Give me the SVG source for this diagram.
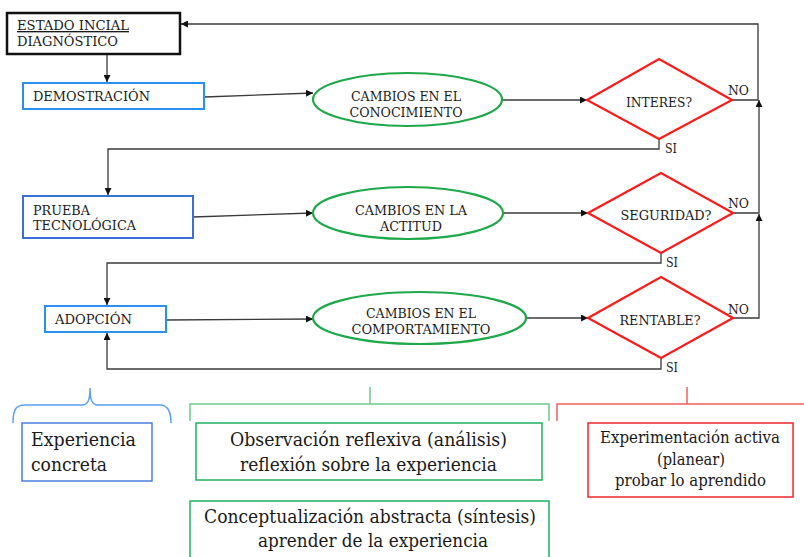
<svg xmlns="http://www.w3.org/2000/svg" width="804" height="557" viewBox="0 0 804 557" font-family="DejaVu Serif, serif">
<defs>
<marker id="ah" viewBox="0 0 10 10" refX="10" refY="5" markerWidth="7" markerHeight="7" markerUnits="userSpaceOnUse" orient="auto">
<path d="M0,0 L10,5 L0,10 z" fill="#111"/>
</marker>
<style>
text{fill:#1a1a1a}
.t{font-size:13.5px}
.s{font-size:12.5px}
.b{font-size:18px}
.r{font-size:16px}
.ca{fill:none;stroke:#3a3a3a;stroke-width:1.3;marker-end:url(#ah)}
.ell{fill:#fff;stroke:#1fa84a;stroke-width:2.2}
.dia{fill:#fff;stroke:#ff1a1a;stroke-width:2.2}
</style>
</defs>
<rect width="804" height="557" fill="#fff"/>

<g id="connectors">
<line class="ca" x1="107" y1="54" x2="107" y2="82"/>
<line class="ca" x1="204" y1="97" x2="313" y2="93"/>
<line class="ca" x1="502" y1="100" x2="587" y2="100"/>
<polyline class="ca" points="732,100 758,100 758,24 181,24"/>
<polyline class="ca" points="659,139 659,149 108,149 108,195"/>
<line class="ca" x1="193" y1="217" x2="313" y2="213"/>
<line class="ca" x1="503" y1="213" x2="588" y2="213"/>
<polyline class="ca" points="733,213 759,213 759,100"/>
<polyline class="ca" points="661,253 661,263 107,263 107,305"/>
<line class="ca" x1="166" y1="320" x2="313" y2="319"/>
<line class="ca" x1="526" y1="318" x2="588" y2="318"/>
<polyline class="ca" points="733,318 759,318 759,214"/>
<polyline class="ca" points="661,358 661,369 107,369 107,333"/>
</g>

<g id="estado">
<rect x="7" y="13" width="173" height="41" fill="#fff" stroke="#111" stroke-width="2.5"/>
<text class="t" x="17" y="30" text-decoration="underline" textLength="112" lengthAdjust="spacingAndGlyphs">ESTADO INCIAL</text>
<text class="t" x="17" y="46" textLength="101" lengthAdjust="spacingAndGlyphs">DIAGNÓSTICO</text>
</g>

<g id="demostracion">
<rect x="23" y="83" width="181" height="26" fill="#fff" stroke="#2b8ff0" stroke-width="2"/>
<text class="t" x="33" y="101" textLength="117" lengthAdjust="spacingAndGlyphs">DEMOSTRACIÓN</text>
</g>

<g id="prueba">
<rect x="23" y="196" width="170" height="42" fill="#fff" stroke="#3a6fd8" stroke-width="2"/>
<text class="t" x="33" y="215" textLength="57" lengthAdjust="spacingAndGlyphs">PRUEBA</text>
<text class="t" x="33" y="230" textLength="103" lengthAdjust="spacingAndGlyphs">TECNOLÓGICA</text>
</g>

<g id="adopcion">
<rect x="45" y="306" width="121" height="26" fill="#fff" stroke="#2b8ff0" stroke-width="2"/>
<text class="t" x="55" y="324" textLength="77" lengthAdjust="spacingAndGlyphs">ADOPCIÓN</text>
</g>

<g id="cambios-conocimiento">
<ellipse class="ell" cx="407.5" cy="99.5" rx="94.5" ry="26.5"/>
<text class="t" x="406" y="101" text-anchor="middle" textLength="110" lengthAdjust="spacingAndGlyphs">CAMBIOS EN EL</text>
<text class="t" x="406" y="117" text-anchor="middle" textLength="113" lengthAdjust="spacingAndGlyphs">CONOCIMIENTO</text>
</g>

<g id="cambios-actitud">
<ellipse class="ell" cx="408" cy="213" rx="95" ry="26"/>
<text class="t" x="411" y="215" text-anchor="middle" textLength="112" lengthAdjust="spacingAndGlyphs">CAMBIOS EN LA</text>
<text class="t" x="411" y="231" text-anchor="middle" textLength="62" lengthAdjust="spacingAndGlyphs">ACTITUD</text>
</g>

<g id="cambios-comportamiento">
<ellipse class="ell" cx="419.5" cy="318" rx="106.5" ry="26"/>
<text class="t" x="421" y="318" text-anchor="middle" textLength="110" lengthAdjust="spacingAndGlyphs">CAMBIOS EN EL</text>
<text class="t" x="421" y="334" text-anchor="middle" textLength="139" lengthAdjust="spacingAndGlyphs">COMPORTAMIENTO</text>
</g>

<g id="interes">
<polygon class="dia" points="587,100 659,59 732,100 659,139"/>
<text class="t" x="659" y="107" text-anchor="middle" textLength="66" lengthAdjust="spacingAndGlyphs">INTERES?</text>
<text class="s" x="728" y="95" textLength="21" lengthAdjust="spacingAndGlyphs">NO</text>
<text class="s" x="665" y="153" textLength="12" lengthAdjust="spacingAndGlyphs">SI</text>
</g>

<g id="seguridad">
<polygon class="dia" points="588,213 661,173 733,213 661,253"/>
<text class="t" x="666" y="220" text-anchor="middle" textLength="91" lengthAdjust="spacingAndGlyphs">SEGURIDAD?</text>
<text class="s" x="728" y="208" textLength="21" lengthAdjust="spacingAndGlyphs">NO</text>
<text class="s" x="666" y="267" textLength="12" lengthAdjust="spacingAndGlyphs">SI</text>
</g>

<g id="rentable">
<polygon class="dia" points="588,318 661,277 733,318 661,358"/>
<text class="t" x="660" y="325" text-anchor="middle" textLength="81" lengthAdjust="spacingAndGlyphs">RENTABLE?</text>
<text class="s" x="728" y="314" textLength="21" lengthAdjust="spacingAndGlyphs">NO</text>
<text class="s" x="666" y="372" textLength="12" lengthAdjust="spacingAndGlyphs">SI</text>
</g>

<g id="brackets">
<path d="M13,423 C13,411 15,405 25,405 L82,405 C88,405 90,400 90,388 C90,400 92,405 98,405 L160,405 C168,405 171,411 171,423" fill="none" stroke="#5aa0f0" stroke-width="1.5"/>
<polyline points="190,421 190,404 549,404 549,421" fill="none" stroke="#6cc98a" stroke-width="1.5"/>
<line x1="370" y1="404" x2="370" y2="387" stroke="#6cc98a" stroke-width="1.5"/>
<polyline points="557,421 557,404 804,404" fill="none" stroke="#f06060" stroke-width="1.5"/>
<line x1="687" y1="404" x2="687" y2="387" stroke="#f06060" stroke-width="1.5"/>
</g>

<g id="experiencia-concreta">
<rect x="22" y="423" width="130" height="58" fill="#fff" stroke="#4a7fe0" stroke-width="1.5"/>
<text class="b" x="31" y="446" textLength="105" lengthAdjust="spacingAndGlyphs">Experiencia</text>
<text class="b" x="31" y="471" textLength="76" lengthAdjust="spacingAndGlyphs">concreta</text>
</g>

<g id="observacion">
<rect x="196" y="423" width="346" height="57" fill="#fff" stroke="#22b060" stroke-width="1.5"/>
<text class="b" x="230" y="446" textLength="277" lengthAdjust="spacingAndGlyphs">Observación reflexiva (análisis)</text>
<text class="b" x="240" y="471" textLength="257" lengthAdjust="spacingAndGlyphs">reflexión sobre la experiencia</text>
</g>

<g id="conceptualizacion">
<rect x="190" y="501" width="359" height="70" fill="#fff" stroke="#22b060" stroke-width="1.5"/>
<text class="b" x="204" y="523" textLength="332" lengthAdjust="spacingAndGlyphs">Conceptualización abstracta (síntesis)</text>
<text class="b" x="258" y="547" textLength="230" lengthAdjust="spacingAndGlyphs">aprender de la experiencia</text>
</g>

<g id="experimentacion">
<rect x="588" y="423" width="205" height="74" fill="#fff" stroke="#f02828" stroke-width="1.5"/>
<text class="r" x="600" y="443" textLength="180" lengthAdjust="spacingAndGlyphs">Experimentación activa</text>
<text class="r" x="657" y="465" textLength="68" lengthAdjust="spacingAndGlyphs">(planear)</text>
<text class="r" x="615" y="486" textLength="151" lengthAdjust="spacingAndGlyphs">probar lo aprendido</text>
</g>
</svg>
